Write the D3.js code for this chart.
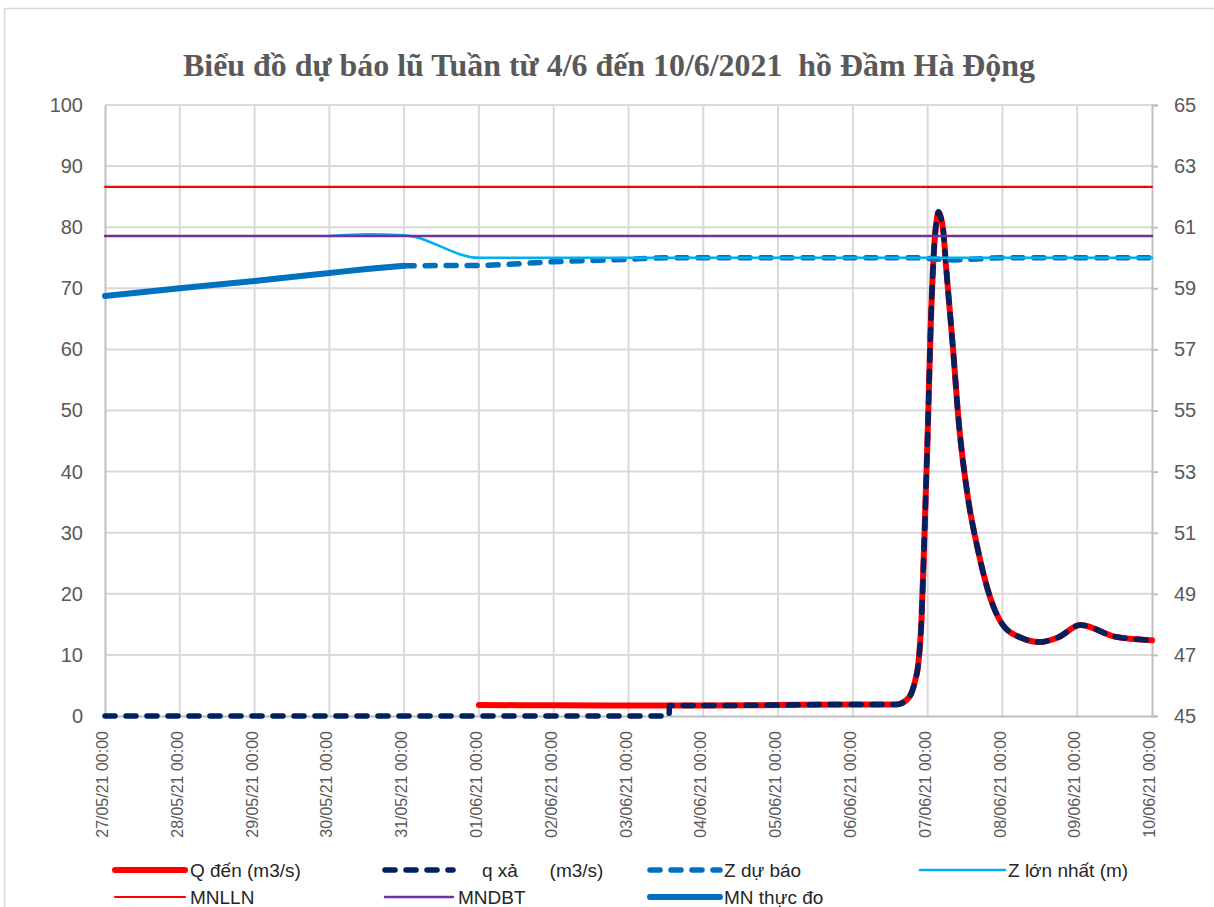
<!DOCTYPE html>
<html><head><meta charset="utf-8">
<script src="https://cdn.jsdelivr.net/npm/d3@7"></script>
<style>body{margin:0;background:#fff}</style>
</head><body>
<script>
// ---------- DATA ----------
const title = "Biểu đồ dự báo lũ Tuần từ 4/6 đến 10/6/2021  hồ Đầm Hà Động";
const dayTicks = ["27/05/21 00:00","28/05/21 00:00","29/05/21 00:00","30/05/21 00:00","31/05/21 00:00","01/06/21 00:00","02/06/21 00:00","03/06/21 00:00","04/06/21 00:00","05/06/21 00:00","06/06/21 00:00","07/06/21 00:00","08/06/21 00:00","09/06/21 00:00","10/06/21 00:00"];
const leftTicks = [0,10,20,30,40,50,60,70,80,90,100];
const rightTicks = [45,47,49,51,53,55,57,59,61,63,65];

const qDen = [
 ["01/06/21 00:00",1.8],["02/06/21 00:00",1.75],["03/06/21 00:00",1.7],["03/06/21 12:00",1.7],
 ["04/06/21 00:00",1.7],["05/06/21 00:00",1.8],["06/06/21 00:00",1.9],["06/06/21 14:00",1.9],
 ["06/06/21 17:00",2.5],["06/06/21 19:00",4.0],["06/06/21 20:00",5.8],["06/06/21 21:00",8.5],
 ["06/06/21 22:00",15.5],["06/06/21 23:00",30],["07/06/21 00:00",46],["07/06/21 01:00",64],
 ["07/06/21 02:00",76],["07/06/21 03:00",81.5],["07/06/21 03:30",82.5],["07/06/21 04:00",82],
 ["07/06/21 05:00",79.5],["07/06/21 06:00",73],["07/06/21 07:00",67],["07/06/21 08:00",61],
 ["07/06/21 10:00",48],["07/06/21 13:00",35.5],["07/06/21 16:00",27.5],["07/06/21 20:00",19.5],
 ["08/06/21 00:00",15],["08/06/21 06:00",12.8],["08/06/21 12:00",12.1],["08/06/21 18:00",12.9],
 ["09/06/21 01:00",14.9],["09/06/21 12:00",13.0],["09/06/21 18:00",12.6],["10/06/21 00:00",12.4]
];
const qXa = [
 ["27/05/21 00:00",0],["28/05/21 00:00",0],["29/05/21 00:00",0],["30/05/21 00:00",0],["31/05/21 00:00",0],
 ["01/06/21 00:00",0],["02/06/21 00:00",0],["03/06/21 00:00",0],["03/06/21 13:00",0],["03/06/21 13:10",1.7],
 ["04/06/21 00:00",1.7],["05/06/21 00:00",1.8],["06/06/21 00:00",1.9],["06/06/21 14:00",1.9],
 ["06/06/21 17:00",2.5],["06/06/21 19:00",4.0],["06/06/21 20:00",5.8],["06/06/21 21:00",8.5],
 ["06/06/21 22:00",15.5],["06/06/21 23:00",30],["07/06/21 00:00",46],["07/06/21 01:00",64],
 ["07/06/21 02:00",76],["07/06/21 03:00",81.5],["07/06/21 03:30",82.5],["07/06/21 04:00",82],
 ["07/06/21 05:00",79.5],["07/06/21 06:00",73],["07/06/21 07:00",67],["07/06/21 08:00",61],
 ["07/06/21 10:00",48],["07/06/21 13:00",35.5],["07/06/21 16:00",27.5],["07/06/21 20:00",19.5],
 ["08/06/21 00:00",15],["08/06/21 06:00",12.8],["08/06/21 12:00",12.1],["08/06/21 18:00",12.9],
 ["09/06/21 01:00",14.9],["09/06/21 12:00",13.0],["09/06/21 18:00",12.6],["10/06/21 00:00",12.4]
];
const zDuBao = [
 ["31/05/21 00:00",59.74],["01/06/21 00:00",59.75],["02/06/21 00:00",59.87],["03/06/21 00:00",59.95],
 ["03/06/21 12:00",60.0],["04/06/21 00:00",60.0],["05/06/21 00:00",60.0],["06/06/21 00:00",60.0],
 ["06/06/21 20:00",60.0],["07/06/21 02:00",59.96],["07/06/21 08:00",59.93],["07/06/21 16:00",59.96],
 ["08/06/21 00:00",60.0],["09/06/21 00:00",60.0],["10/06/21 00:00",60.0]
];
const zLonNhat = [
 ["30/05/21 00:00",60.71],["30/05/21 12:00",60.77],["31/05/21 00:00",60.74],["01/06/21 00:00",60.0],
 ["02/06/21 00:00",60.0],["04/06/21 00:00",60.0],["06/06/21 00:00",60.0],["08/06/21 00:00",60.0],["10/06/21 00:00",60.0]
];
const mnlln = [["27/05/21 00:00",62.32],["10/06/21 00:00",62.32]];
const mndbt = [["27/05/21 00:00",60.71],["10/06/21 00:00",60.71]];
const mnThucDo = [
 ["27/05/21 00:00",58.75],["28/05/21 00:00",59.0],["29/05/21 00:00",59.24],["30/05/21 00:00",59.5],
 ["30/05/21 12:00",59.63],["31/05/21 00:00",59.74]
];

// ---------- CHART ----------
const W = 1214, H = 907;
const parse = d3.utcParse("%d/%m/%y %H:%M");
const svg = d3.select("body").append("svg").attr("width", W).attr("height", H)
  .style("font-family", "'Liberation Sans', Arial, sans-serif");

svg.append("rect").attr("x", 4.5).attr("y", 8.5).attr("width", W + 10).attr("height", H + 10)
  .attr("fill", "#fff").attr("stroke", "#d9d9d9").attr("stroke-width", 1.5);

const x = d3.scaleUtc().domain([parse(dayTicks[0]), parse(dayTicks[dayTicks.length - 1])]).range([105, 1152]);
const yL = d3.scaleLinear().domain([0, 100]).range([716, 105]);
const yR = d3.scaleLinear().domain([45, 65]).range([716, 105]);

// gridlines
const grid = svg.append("g");
grid.selectAll("line.h").data(leftTicks.filter(d => d > 0)).join("line")
  .attr("x1", x.range()[0]).attr("x2", x.range()[1]).attr("y1", d => yL(d)).attr("y2", d => yL(d))
  .attr("stroke", "#d9d9d9").attr("stroke-width", 2);
grid.selectAll("line.v").data(dayTicks.slice(1, -1)).join("line")
  .attr("x1", d => x(parse(d))).attr("x2", d => x(parse(d))).attr("y1", yL(0)).attr("y2", yL(100))
  .attr("stroke", "#d9d9d9").attr("stroke-width", 2);

// axes
const axL = svg.append("g").attr("transform", `translate(${x.range()[0]},0)`)
  .call(d3.axisLeft(yL).tickValues(leftTicks).tickSize(0).tickPadding(22));
const axR = svg.append("g").attr("transform", `translate(${x.range()[1]},0)`)
  .call(d3.axisRight(yR).tickValues(rightTicks).tickSize(6).tickPadding(16));
const axB = svg.append("g").attr("transform", `translate(0,${yL(0)})`)
  .call(d3.axisBottom(x).tickValues(dayTicks.map(parse)).tickSize(0).tickFormat(d3.utcFormat("%d/%m/%y %H:%M")));
[axL, axR, axB].forEach(a => {
  a.select(".domain").attr("stroke", "#bfbfbf").attr("stroke-width", 2);
  a.selectAll(".tick line").attr("stroke", "#bfbfbf").attr("stroke-width", 2);
  a.selectAll("text").attr("fill", "#595959").style("font-family", "'Liberation Sans', Arial, sans-serif");
});
axL.selectAll("text").attr("font-size", 20);
axR.selectAll("text").attr("font-size", 20);
axB.selectAll("text").attr("font-size", 16)
  .attr("transform", "rotate(-90)").attr("text-anchor", "end")
  .attr("x", -15).attr("y", -3).attr("dy", "0.35em");

// title
svg.append("text").attr("x", 609).attr("y", 76).attr("text-anchor", "middle")
  .attr("font-family", "'Liberation Serif', 'Times New Roman', serif").attr("font-weight", "bold")
  .attr("font-size", 31).attr("fill", "#595959").style("white-space", "pre")
  .attr("textLength", 852).attr("lengthAdjust", "spacingAndGlyphs")
  .text(title);

// series
const series = [
  {name: "Q đến (m3/s)", data: qDen, y: yL, color: "#ff0000", width: 6, dash: null},
  {name: "q xả      (m3/s)", data: qXa, y: yL, color: "#002060", width: 5.5, dash: "10,11"},
  {name: "Z dự báo", data: zDuBao, y: yR, color: "#0070c0", width: 5.5, dash: "10,11"},
  {name: "Z lớn nhất (m)", data: zLonNhat, y: yR, color: "#00b0f0", width: 2.5, dash: null},
  {name: "MNLLN", data: mnlln, y: yR, color: "#ff0000", width: 2.2, dash: null},
  {name: "MNDBT", data: mndbt, y: yR, color: "#7030a0", width: 2.5, dash: null},
  {name: "MN thực đo", data: mnThucDo, y: yR, color: "#0070c0", width: 6, dash: null}
];
const plot = svg.append("g");
series.forEach(s => {
  const line = d3.line().x(d => x(parse(d[0]))).y(d => s.y(d[1])).curve(d3.curveMonotoneX);
  plot.append("path").datum(s.data).attr("d", line)
    .attr("fill", "none").attr("stroke", s.color).attr("stroke-width", s.width)
    .attr("stroke-linecap", "round").attr("stroke-linejoin", "round")
    .attr("stroke-dasharray", s.dash);
});

// legend
const legPos = [
  {x: 115, y: 870, tx: 190}, {x: 385, y: 870, tx: 482}, {x: 650, y: 870, tx: 724}, {x: 920, y: 870, tx: 1008},
  {x: 115, y: 897, tx: 190}, {x: 385, y: 897, tx: 458}, {x: 650, y: 897, tx: 724}
];
const legLen = [70, 68, 70, 85, 70, 68, 70];
series.forEach((s, i) => {
  const p = legPos[i];
  svg.append("line").attr("x1", p.x).attr("x2", p.x + legLen[i]).attr("y1", p.y).attr("y2", p.y)
    .attr("stroke", s.color).attr("stroke-width", s.width).attr("stroke-linecap", "round")
    .attr("stroke-dasharray", s.dash);
  svg.append("text").attr("x", p.tx).attr("y", p.y).attr("dy", "0.35em")
    .attr("font-size", 19).attr("fill", "#262626").style("white-space", "pre").text(s.name);
});
</script>
</body></html>
